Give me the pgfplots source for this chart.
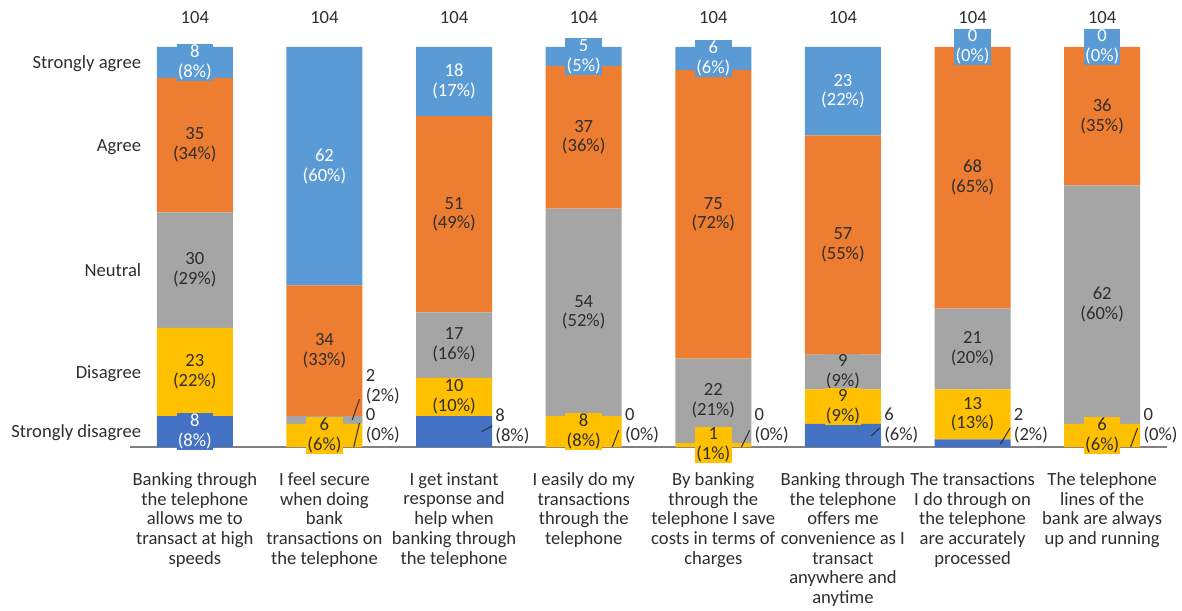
\documentclass[border=0pt]{standalone}
\usepackage{fontspec}
\setmainfont{Carlito}
\usepackage{pgfplots}
\usepackage{pgfplotstable}
\pgfplotsset{compat=1.18}
\definecolor{cSD}{HTML}{4472C4}
\definecolor{cD}{HTML}{FFC000}
\definecolor{cN}{HTML}{A5A5A5}
\definecolor{cA}{HTML}{ED7D31}
\definecolor{cSA}{HTML}{5B9BD5}
\definecolor{cT}{HTML}{2E2E2E}
\definecolor{cAx}{HTML}{808080}
\newcommand\cf{\fontsize{9.3pt}{9.85pt}\selectfont}

\pgfplotstableread{
x sd d n a sa sdp dp np ap sap tot
0 8 23 30 35 8 8 22 29 34 8 104
1 0 6 2 34 62 0 6 2 33 60 104
2 8 10 17 51 18 8 10 16 49 17 104
3 0 8 54 37 5 0 8 52 36 5 104
4 0 1 22 75 6 0 1 21 72 6 104
5 6 9 9 57 23 6 9 9 55 22 104
6 2 13 21 68 0 2 13 20 65 0 104
7 0 6 62 36 0 0 6 60 35 0 104
}\data
\pgfplotstablecreatecol[create col/expr={\thisrow{sd}/2}]{sdm}\data
\pgfplotstablecreatecol[create col/expr={\thisrow{sd}+\thisrow{d}/2}]{dm}\data
\pgfplotstablecreatecol[create col/expr={\thisrow{sd}+\thisrow{d}+\thisrow{n}/2}]{nm}\data
\pgfplotstablecreatecol[create col/expr={\thisrow{sd}+\thisrow{d}+\thisrow{n}+\thisrow{a}/2}]{am}\data
\pgfplotstablecreatecol[create col/expr={\thisrow{sd}+\thisrow{d}+\thisrow{n}+\thisrow{a}+\thisrow{sa}/2}]{sam}\data

% labels placed outside the bars (value, percent, label position)
\pgfplotstableread{
x y v p
1.316 15.6 2 2
1.316 5.5 0 0
2.316 5.4 8 8
3.316 5.5 0 0
4.316 5.5 0 0
5.316 5.6 6 6
6.316 5.5 2 2
7.316 5.5 0 0
}\outdata

\pgfplotsset{
  seglab/.style 2 args={draw=none, mark=none, forget plot,
    nodes near coords={\pgfmathprintnumber{\pgfplotspointmeta}\\(\pgfmathprintnumber{\pct}\%)},
    every node near coord/.append style={font=\cf, align=center, anchor=center,
      inner sep=0.6pt, fill=#1, text=#2}},
  leader/.style={cT, line width=0.5pt, mark=none, forget plot},
}

\begin{document}
\begin{tikzpicture}
\begin{axis}[name=ax,
  scale only axis, width=518.5pt, height=200pt,
  ybar stacked, bar width=38pt,
  xmin=-0.5, xmax=7.5, ymin=0, ymax=104, enlargelimits=false,
  axis lines*=left,
  y axis line style={draw=none},
  x axis line style={cAx, line width=0.8pt},
  xtick style={draw=none}, ytick style={draw=none},
  major tick length=0pt,
  xtick={0,...,7},
  xticklabels={
    {Banking through\\the telephone\\allows me to\\transact at high\\speeds},
    {I feel secure\\when doing\\bank\\transactions on\\the telephone},
    {I get instant\\response and\\help when\\banking through\\the telephone},
    {I easily do my\\transactions\\through the\\telephone},
    {By banking\\through the\\telephone I save\\costs in terms of\\charges},
    {Banking through\\the telephone\\offers me\\convenience as I\\transact\\anywhere and\\anytime},
    {The transactions\\I do through on\\the telephone\\are accurately\\processed},
    {The telephone\\lines of the\\bank are always\\up and running}},
  xticklabel style={font=\cf, align=center, anchor=north, inner sep=0pt, yshift=-12.5pt, text=cT},
  ytick={4,19.5,46,78.5,100},
  yticklabels={Strongly disagree,Disagree,Neutral,Agree,Strongly agree},
  yticklabel style={font=\cf, anchor=base east, inner sep=0pt, xshift=5.8pt, yshift=-3pt, text=cT},
  clip=false,
]
\addplot[fill=cSD, draw=none] table[x=x, y=sd]{\data};
\addplot[fill=cD, draw=none] table[x=x, y=d]{\data};
\addplot[fill=cN, draw=none] table[x=x, y=n]{\data};
\addplot[fill=cA, draw=none] table[x=x, y=a]{\data};
\addplot[fill=cSA, draw=none] table[x=x, y=sa]{\data};
\end{axis}

\begin{axis}[
  scale only axis, width=518.5pt, height=200pt,
  xmin=-0.5, xmax=7.5, ymin=0, ymax=104, enlargelimits=false,
  hide axis, clip=false,
  /pgf/number format/assume math mode=true,
]
% leader lines
\addplot[leader] coordinates {(1.214,7) (1.27,12.4)};
\addplot[leader] coordinates {(1.226,0) (1.27,6.2)};
\addplot[leader] coordinates {(2.213,4) (2.295,5.5)};
\addplot[leader] coordinates {(3.221,0) (3.27,4.4)};
\addplot[leader] coordinates {(4.217,0) (4.281,4.4)};
\addplot[leader] coordinates {(5.219,2.9) (5.283,4.9)};
\addplot[leader] coordinates {(6.216,0.8) (6.291,5.0)};
\addplot[leader] coordinates {(7.219,0) (7.273,4.9)};
% segment labels (top series first so lower labels lie on top)
\addplot[seglab={cSA}{white}, point meta=\thisrow{sa},
  visualization depends on={\thisrow{sap}\as\pct}] table[x=x, y=sam]{\data};
\addplot[seglab={cA}{cT}, point meta=\thisrow{a},
  visualization depends on={\thisrow{ap}\as\pct}] table[x=x, y=am]{\data};
\addplot[seglab={cN}{cT}, point meta=\thisrow{n},
  visualization depends on={\thisrow{np}\as\pct},
  skip coords between index={1}{2}] table[x=x, y=nm]{\data};
\addplot[seglab={cD}{cT}, point meta=\thisrow{d},
  visualization depends on={\thisrow{dp}\as\pct}] table[x=x, y=dm]{\data};
\addplot[seglab={cSD}{white}, point meta=\thisrow{sd},
  visualization depends on={\thisrow{sdp}\as\pct},
  skip coords between index={1}{8}] table[x=x, y=sdm]{\data};
% outside labels
\addplot[draw=none, mark=none, point meta=\thisrow{v},
  visualization depends on={\thisrow{p}\as\pct},
  nodes near coords={\pgfmathprintnumber{\pgfplotspointmeta}\\(\pgfmathprintnumber{\pct}\%)},
  every node near coord/.append style={font=\cf, align=left, anchor=west,
    inner sep=0pt, text=cT}] table[x=x, y=y]{\outdata};
% totals
\addplot[draw=none, mark=none, point meta=\thisrow{tot}, nodes near coords,
  every node near coord/.append style={font=\cf, anchor=center, inner sep=0pt,
    yshift=14.5pt, text=cT}] table[x=x, y=tot]{\data};
\end{axis}
\pgfresetboundingbox
\path[use as bounding box] ([shift={(-65pt,-81.5pt)}]ax.south west) rectangle ([shift={(7.5pt,23.5pt)}]ax.north east);
\end{tikzpicture}
\end{document}
